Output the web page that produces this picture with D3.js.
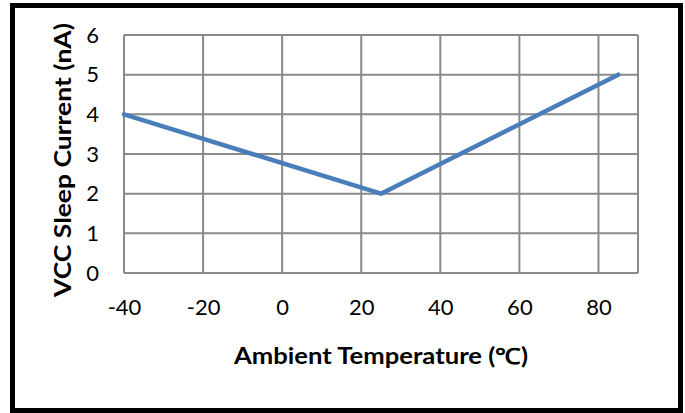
<!DOCTYPE html>
<meta charset="utf-8">
<style>
body { margin: 0; background: #fff; font-family: Lato, "Open Sans", Arial, sans-serif; }
.grid line { stroke: #8a8a8a; stroke-width: 2; }
.tick text { fill: #000; }
</style>
<body>
<svg id="chart" width="685" height="413"></svg>
<script src="https://cdn.jsdelivr.net/npm/d3@7"></script>
<script>
// data
var temps = [-40, 25, 85];
var currents = [4, 2, 5];
var xTicks = [-40, -20, 0, 20, 40, 60, 80];
var yTicks = [0, 1, 2, 3, 4, 5, 6];

var svg = d3.select("#chart"),
    plot = {left: 124, right: 638, top: 35, bottom: 273};

// outer frame
svg.append("rect")
    .attr("x", 12.5).attr("y", 5.5)
    .attr("width", 668).attr("height", 405)
    .attr("fill", "#fff")
    .attr("stroke", "#000")
    .attr("stroke-width", 5);

var x = d3.scaleLinear().domain([-40, 90]).range([plot.left, plot.right]);
var y = d3.scaleLinear().domain([0, 6]).range([plot.bottom, plot.top]);

var g = svg.append("g").attr("class", "grid");

// grid lines
g.selectAll("line.v")
    .data(xTicks.concat([90]))
    .enter().append("line")
    .attr("class", "v")
    .attr("x1", function(d) { return x(d); })
    .attr("x2", function(d) { return x(d); })
    .attr("y1", plot.top).attr("y2", plot.bottom);

g.selectAll("line.h")
    .data(yTicks)
    .enter().append("line")
    .attr("class", "h")
    .attr("x1", plot.left).attr("x2", plot.right)
    .attr("y1", function(d) { return y(d); })
    .attr("y2", function(d) { return y(d); });

// axes: labels only
var fmt = function(d) { return String(d); };
var xAxis = svg.append("g")
    .attr("transform", "translate(0," + plot.bottom + ")")
    .call(d3.axisBottom(x).tickValues(xTicks).tickFormat(fmt).tickSize(0).tickPadding(26));
var yAxis = svg.append("g")
    .attr("transform", "translate(" + plot.left + ",0)")
    .call(d3.axisLeft(y).tickValues(yTicks).tickFormat(fmt).tickSize(0).tickPadding(25));

[xAxis, yAxis].forEach(function(a) {
    a.select(".domain").remove();
    a.selectAll("text")
        .attr("font-family", "Lato, 'Open Sans', Arial, sans-serif")
        .attr("font-size", 22);
});

// the series
var line = d3.line()
    .x(function(d, i) { return x(temps[i]); })
    .y(function(d) { return y(d); });

svg.append("path")
    .datum(currents)
    .attr("d", line)
    .attr("fill", "none")
    .attr("stroke", "#4a7ebb")
    .attr("stroke-width", 4.5)
    .attr("stroke-linejoin", "round")
    .attr("stroke-linecap", "round");

// axis titles
svg.append("text")
    .attr("x", 381).attr("y", 364)
    .attr("text-anchor", "middle")
    .attr("font-family", "Lato, 'Open Sans', Arial, sans-serif")
    .attr("font-size", 22)
    .attr("font-weight", "bold")
    .attr("textLength", 294)
    .attr("lengthAdjust", "spacingAndGlyphs")
    .text("Ambient Temperature (\u2103)");

svg.append("text")
    .attr("transform", "translate(71,160) rotate(-90)")
    .attr("text-anchor", "middle")
    .attr("font-family", "Lato, 'Open Sans', Arial, sans-serif")
    .attr("font-size", 22)
    .attr("font-weight", "bold")
    .attr("textLength", 274)
    .attr("lengthAdjust", "spacingAndGlyphs")
    .text("VCC Sleep Current (nA)");
</script>
</body>
